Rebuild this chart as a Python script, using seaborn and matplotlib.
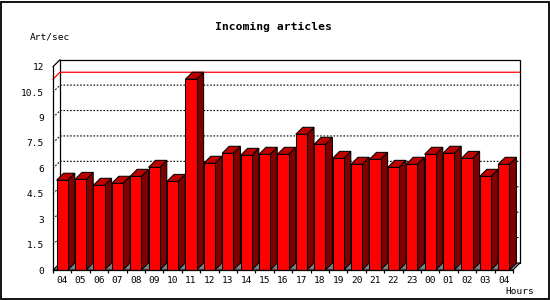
import matplotlib
matplotlib.use("Agg")
import matplotlib.pyplot as plt
import seaborn as sns
import pandas as pd
from matplotlib.patches import Polygon, Rectangle

hours = ["04", "05", "06", "07", "08", "09", "10", "11", "12", "13", "14", "15", "16",
         "17", "18", "19", "20", "21", "22", "23", "00", "01", "02", "03", "04"]
rates = [5.30, 5.35, 5.00, 5.12, 5.53, 6.06, 5.23, 11.26, 6.30, 6.89, 6.77, 6.83, 6.83,
         8.01, 7.42, 6.59, 6.24, 6.53, 6.06, 6.24, 6.83, 6.89, 6.59, 5.53, 6.24]
ytick_vals = [0, 1.5, 3, 4.5, 6, 7.5, 9, 10.5, 12]
ytick_labels = ["0", "1.5", "3", "4.5", "6", "7.5", "9", "10.5", "12"]
title = "Incoming articles"
ylabel = "Art/sec"
xlabel = "Hours"

FRONT = "#FF0000"
SIDE = "#800000"
TOP = "#C00000"
FLOOR = "#808080"
MONO = "DejaVu Sans Mono"
DEPTH = 7  # pixels

sns.set_style("white")
plt.rcParams["font.family"] = [MONO, "DejaVu Sans"]
plt.rcParams["text.color"] = "black"

W, H = 550, 300
fig = plt.figure(figsize=(W / 100, H / 100), dpi=100)
fig.patch.set_facecolor("white")
ax = fig.add_axes([53 / W, 30 / H, 460 / W, 203.3 / H])
ax.set_facecolor("none")

df = pd.DataFrame({"slot": list(range(len(rates))), "rate": rates})
sns.barplot(data=df, x="slot", y="rate", color=FRONT, saturation=1, width=0.61,
            edgecolor="black", linewidth=0.75, ax=ax, zorder=5)

n = len(rates)
x0l, x1l = -0.5, n - 0.5
ax.set_xlim(x0l, x1l)
ax.set_ylim(0, 12)

# depth in data units
p0 = ax.transData.transform((0, 0))
p1 = ax.transData.transform((1, 1))
ddx = DEPTH / (p1[0] - p0[0])
ddy = DEPTH / (p1[1] - p0[1])
ymax = ytick_vals[-1]

# back wall
ax.add_patch(Rectangle((x0l + ddx, ddy), x1l - x0l, ymax, facecolor="white",
                       edgecolor="black", linewidth=0.9, zorder=0.5, clip_on=False))
# floor
ax.add_patch(Polygon([(x0l, 0), (x1l, 0), (x1l + ddx, ddy), (x0l + ddx, ddy)],
                     closed=True, facecolor=FLOOR, edgecolor="black", linewidth=0.75,
                     zorder=1, clip_on=False))
# top-left connector
ax.plot([x0l, x0l + ddx], [ymax, ymax + ddy], color="black", lw=0.9, zorder=2, clip_on=False)

# gridlines on back wall
for v in ytick_vals[1:-1]:
    ax.plot([x0l, x0l + ddx, x1l + ddx], [v, v + ddy, v + ddy], color="black", lw=0.8,
            linestyle=(0, (1.5, 1.5)), zorder=1.5, clip_on=False)

# max line
vmax = max(rates)
ax.plot([x0l, x0l + ddx, x1l + ddx], [vmax, vmax + ddy, vmax + ddy], color=FRONT, lw=0.9,
        zorder=1.6, clip_on=False)

# 3D faces of bars
for p in list(ax.patches):
    if not isinstance(p, Rectangle) or p.get_facecolor()[:3] != matplotlib.colors.to_rgb(FRONT):
        continue
    bx, by = p.get_x(), p.get_y()
    bw, bh = p.get_width(), p.get_height()
    xr, yt = bx + bw, by + bh
    ax.add_patch(Polygon([(xr, by), (xr, yt), (xr + ddx, yt + ddy), (xr + ddx, by + ddy)],
                         closed=True, facecolor=SIDE, edgecolor="black", linewidth=0.75,
                         zorder=4, clip_on=False))
    ax.add_patch(Polygon([(bx, yt), (xr, yt), (xr + ddx, yt + ddy), (bx + ddx, yt + ddy)],
                         closed=True, facecolor=TOP, edgecolor="black", linewidth=0.75,
                         zorder=4, clip_on=False))

# axes styling
for s in ["top", "right"]:
    ax.spines[s].set_visible(False)
for s in ["left", "bottom"]:
    ax.spines[s].set_color("black")
    ax.spines[s].set_linewidth(0.9)
    ax.spines[s].set_zorder(6)

ax.set_yticks(ytick_vals)
ax.set_yticklabels(ytick_labels)
ax.set_xticks(range(n))
ax.set_xticklabels(hours)
ax.set_xticks([i - 0.5 for i in range(n + 1)], minor=True)
ax.tick_params(axis="y", which="major", direction="out", length=3, width=0.9,
               color="black", pad=3.5, labelsize=6.8, labelcolor="black")
ax.tick_params(axis="x", which="major", length=0, pad=4, labelsize=6.8, labelcolor="black")
ax.tick_params(axis="x", which="minor", direction="out", length=2.3, width=0.9,
               color="black", bottom=True)
ax.set_xlabel("")
ax.set_ylabel("")
for lab in ax.get_xticklabels() + ax.get_yticklabels():
    lab.set_family(MONO)
    lab.set_color("black")

fig.text(273.6 / W, 1 - 26.7 / H, title, ha="center", va="center", fontsize=8.2,
         fontweight="bold", family=MONO, color="black")
fig.text(30 / W, 1 - 37 / H, ylabel, ha="left", va="center", fontsize=6.8, family=MONO,
         color="black")
fig.text(534 / W, 1 - 292 / H, xlabel, ha="right", va="center", fontsize=6.8, family=MONO,
         color="black")

# outer border
fig.add_artist(Rectangle((0.5 / W, 1.0 / H), 548 / W, 297.5 / H, transform=fig.transFigure,
                         fill=False, edgecolor="black", linewidth=1.3))

fig.savefig("out.png", dpi=100)
